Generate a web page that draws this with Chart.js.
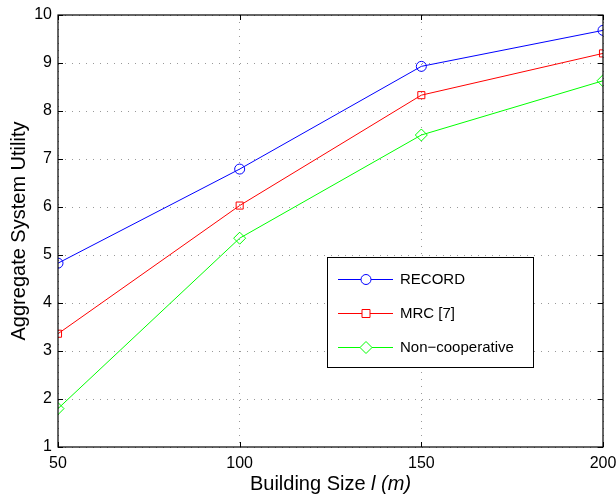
<!DOCTYPE html>
<html>
<head>
<meta charset="utf-8">
<script src="https://cdn.jsdelivr.net/npm/chart.js@4/dist/chart.umd.min.js"></script>
<style>
  html, body { margin: 0; padding: 0; background: #fff; }
  #wrap { width: 616px; height: 497px; position: relative; }
</style>
</head>
<body>
<div id="wrap"><canvas id="c" width="616" height="497"></canvas></div>
<script>
const buildingSizes = [50, 100, 150, 200];
const recordValues = [4.83, 6.79, 8.93, 9.68];
const mrcValues = [3.36, 6.03, 8.33, 9.20];
const nonCoopValues = [1.80, 5.35, 7.50, 8.63];
const seriesNames = ['RECORD', 'MRC [7]', 'Non\u2212cooperative'];
const xTicks = [50, 100, 150, 200];
const yTicks = [1, 2, 3, 4, 5, 6, 7, 8, 9, 10];

const FONT = '"Liberation Sans", Arial, Helvetica, sans-serif';

function pts(vals) { return buildingSizes.map((x, i) => ({ x: x, y: vals[i] })); }

const matlabPlugin = {
  id: 'matlab',
  afterDraw(chart) {
    const { ctx, chartArea: a, scales } = chart;
    ctx.save();
    ctx.setLineDash([]);
    // box
    ctx.strokeStyle = '#000';
    ctx.lineWidth = 1.2;
    ctx.strokeRect(a.left, a.top, a.right - a.left, a.bottom - a.top);
    // inward ticks
    ctx.lineWidth = 1;
    xTicks.forEach(v => {
      const px = Math.round(scales.x.getPixelForValue(v)) + 0.5;
      ctx.beginPath();
      ctx.moveTo(px, a.bottom); ctx.lineTo(px, a.bottom - 5);
      ctx.moveTo(px, a.top); ctx.lineTo(px, a.top + 5);
      ctx.stroke();
    });
    yTicks.forEach(v => {
      const py = Math.round(scales.y.getPixelForValue(v)) + 0.5;
      ctx.beginPath();
      ctx.moveTo(a.left, py); ctx.lineTo(a.left + 5, py);
      ctx.moveTo(a.right, py); ctx.lineTo(a.right - 5, py);
      ctx.stroke();
    });
    // x axis title with italic part
    ctx.fillStyle = '#000';
    ctx.textBaseline = 'middle';
    const p1 = 'Building Size ';
    const p2 = 'l (m)';
    ctx.font = '20px ' + FONT;
    const w1 = ctx.measureText(p1).width;
    ctx.font = 'italic 20px ' + FONT;
    const w2 = ctx.measureText(p2).width;
    const cx = (a.left + a.right) / 2;
    let sx = cx - (w1 + w2) / 2;
    ctx.textAlign = 'left';
    ctx.font = '20px ' + FONT;
    ctx.fillText(p1, sx, 484);
    ctx.font = 'italic 20px ' + FONT;
    ctx.fillText(p2, sx + w1, 484);
    // legend
    const lx = 327, ly = 257, lw = 206, lh = 110;
    ctx.fillStyle = '#fff';
    ctx.fillRect(lx, ly, lw, lh);
    ctx.strokeStyle = '#000';
    ctx.lineWidth = 1;
    ctx.strokeRect(lx + 0.5, ly + 0.5, lw, lh);
    const rows = [279, 313, 347];
    chart.data.datasets.forEach((ds, i) => {
      const y = rows[i] + 0.5;
      ctx.strokeStyle = ds.borderColor;
      ctx.lineWidth = 1;
      ctx.beginPath();
      ctx.moveTo(338, y); ctx.lineTo(393, y); ctx.stroke();
      const mx = 366;
      ctx.beginPath();
      if (ds.pointStyle === 'circle') {
        ctx.arc(mx, y, 5, 0, Math.PI * 2);
      } else if (ds.pointStyle === 'rect') {
        ctx.rect(mx - 4, y - 4, 8, 8);
      } else {
        ctx.moveTo(mx, y - 6); ctx.lineTo(mx + 6, y); ctx.lineTo(mx, y + 6); ctx.lineTo(mx - 6, y); ctx.closePath();
      }
      ctx.fillStyle = '#fff';
      ctx.fill();
      ctx.stroke();
      ctx.fillStyle = '#000';
      ctx.font = '15px ' + FONT;
      ctx.textAlign = 'left';
      ctx.textBaseline = 'middle';
      ctx.fillText(ds.label, 400, y);
    });
    ctx.restore();
  }
};

const ds = (label, vals, color, style, r) => ({
  label: label,
  data: pts(vals),
  borderColor: color,
  backgroundColor: 'rgba(0,0,0,0)',
  borderWidth: 1,
  pointStyle: style,
  pointRadius: r,
  pointBorderWidth: 1,
  pointBorderColor: color,
  pointBackgroundColor: 'rgba(0,0,0,0)',
  tension: 0,
  fill: false
});

new Chart(document.getElementById('c'), {
  type: 'line',
  data: {
    datasets: [
      ds(seriesNames[0], recordValues, '#0000ff', 'circle', 5),
      ds(seriesNames[1], mrcValues, '#ff0000', 'rect', 5),
      ds(seriesNames[2], nonCoopValues, '#00ff00', 'rectRot', 6)
    ]
  },
  options: {
    responsive: false,
    animation: false,
    layout: { padding: { top: 15, right: 13, left: 0, bottom: 0 } },
    plugins: { legend: { display: false }, tooltip: { enabled: false } },
    scales: {
      x: {
        type: 'linear',
        min: 50, max: 200,
        afterBuildTicks: (s) => { s.ticks = xTicks.map(v => ({ value: v })); },
        afterFit: (s) => { s.height = 50; s.paddingLeft = 0; s.paddingRight = 0; },
        ticks: { color: '#000', font: { family: FONT, size: 16 }, padding: 7, maxRotation: 0 },
        grid: { color: '#999', lineWidth: 1, drawTicks: false, tickLength: 0 },
        border: { display: false, dash: [1, 6] },
        title: { display: false }
      },
      y: {
        type: 'linear',
        min: 1, max: 10,
        afterBuildTicks: (s) => { s.ticks = yTicks.map(v => ({ value: v })); },
        afterFit: (s) => { s.width = 58; s.paddingTop = 0; s.paddingBottom = 0; },
        ticks: { color: '#000', font: { family: FONT, size: 16 }, padding: 6 },
        grid: { color: '#999', lineWidth: 1, drawTicks: false, tickLength: 0 },
        border: { display: false, dash: [1, 6] },
        title: { display: true, text: 'Aggregate System Utility', color: '#000', font: { family: FONT, size: 20 }, padding: { top: 7, bottom: 0 } }
      }
    }
  },
  plugins: [matlabPlugin]
});
</script>
</body>
</html>
